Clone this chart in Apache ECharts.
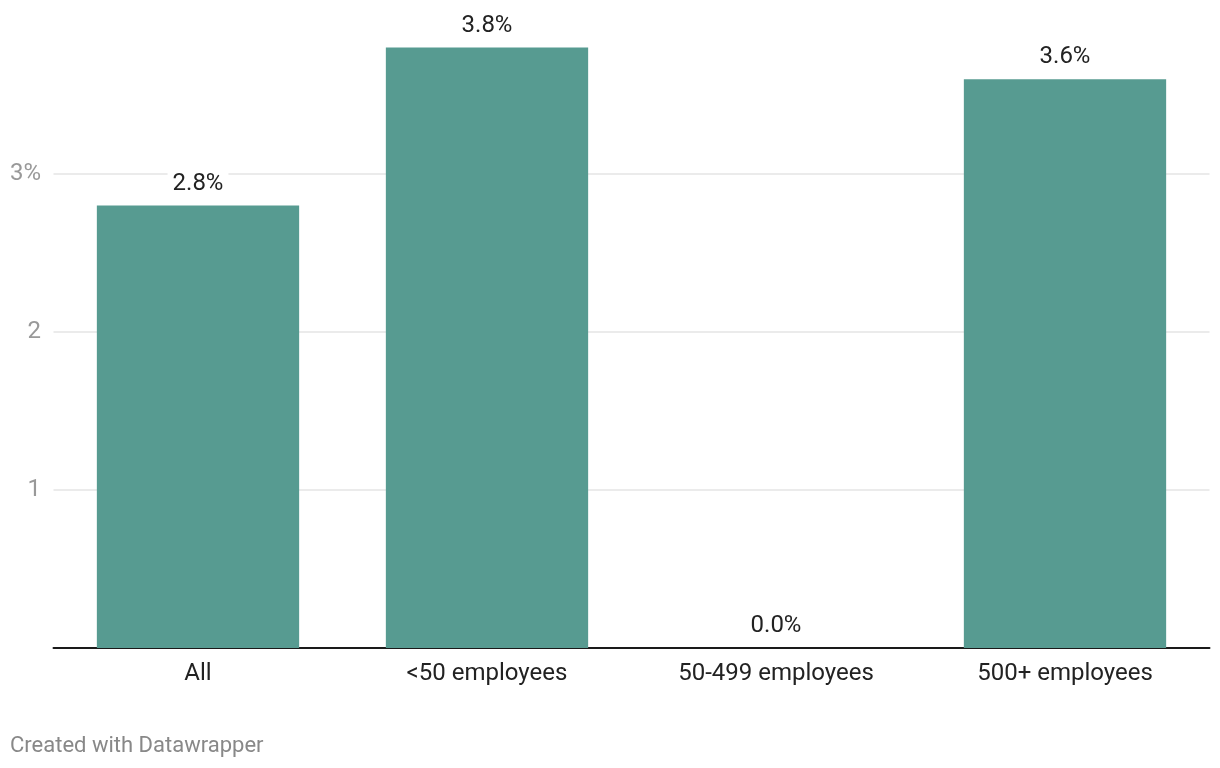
<!DOCTYPE html>
<html><head><meta charset="utf-8">
<script src="https://cdn.jsdelivr.net/npm/echarts@6/dist/echarts.min.js"></script>
<style>html,body{margin:0;padding:0;background:#fff}#c{width:1220px;height:768px}</style>
</head><body><div id="c"></div>
<script>
const categories = ['All', '<50 employees', '50-499 employees', '500+ employees'];
const values = [2.8, 3.8, 0.0, 3.6];
const yTicks = [1, 2, 3];

const chart = echarts.init(document.getElementById('c'), null, {renderer: 'canvas'});
chart.setOption({
  animation: false,
  textStyle: {fontFamily: 'Roboto'},
  grid: {left: 53.5, right: 10.5, top: 47.6, bottom: 120, containLabel: false},
  graphic: [{
    type: 'text', left: 10, top: 735,
    style: {text: 'Created with Datawrapper', fill: '#888', font: '22px Roboto'}
  }],
  xAxis: {
    type: 'category', data: categories,
    axisLine: {lineStyle: {color: '#1a1a1a', width: 2}},
    axisTick: {show: false},
    axisLabel: {color: '#222', fontSize: 24, margin: 14}
  },
  yAxis: {
    type: 'value', min: 0, max: 3.8, interval: 1,
    splitLine: {show: true, lineStyle: {color: ['#e4e4e4', '#e4e4e4', '#e4e4e4', '#e4e4e4', 'rgba(0,0,0,0)'], width: 1.5}},
    axisLine: {show: false}, axisTick: {show: false},
    axisLabel: {
      align: 'right', margin: 12.5, color: '#999', fontSize: 24,
      showMaxLabel: false, showMinLabel: false,
      formatter: v => yTicks.includes(v) ? (v === yTicks[yTicks.length - 1] ? v + '%' : String(v)) : ''
    }
  },
  series: [{
    type: 'bar', data: values, barCategoryGap: '30%',
    itemStyle: {color: '#579b91'},
    label: {
      show: true, position: 'top', distance: 7,
      color: '#222', fontSize: 24, backgroundColor: '#fff', padding: [3, 5],
      formatter: p => p.value.toFixed(1) + '%'
    }
  }]
});
</script></body></html>
